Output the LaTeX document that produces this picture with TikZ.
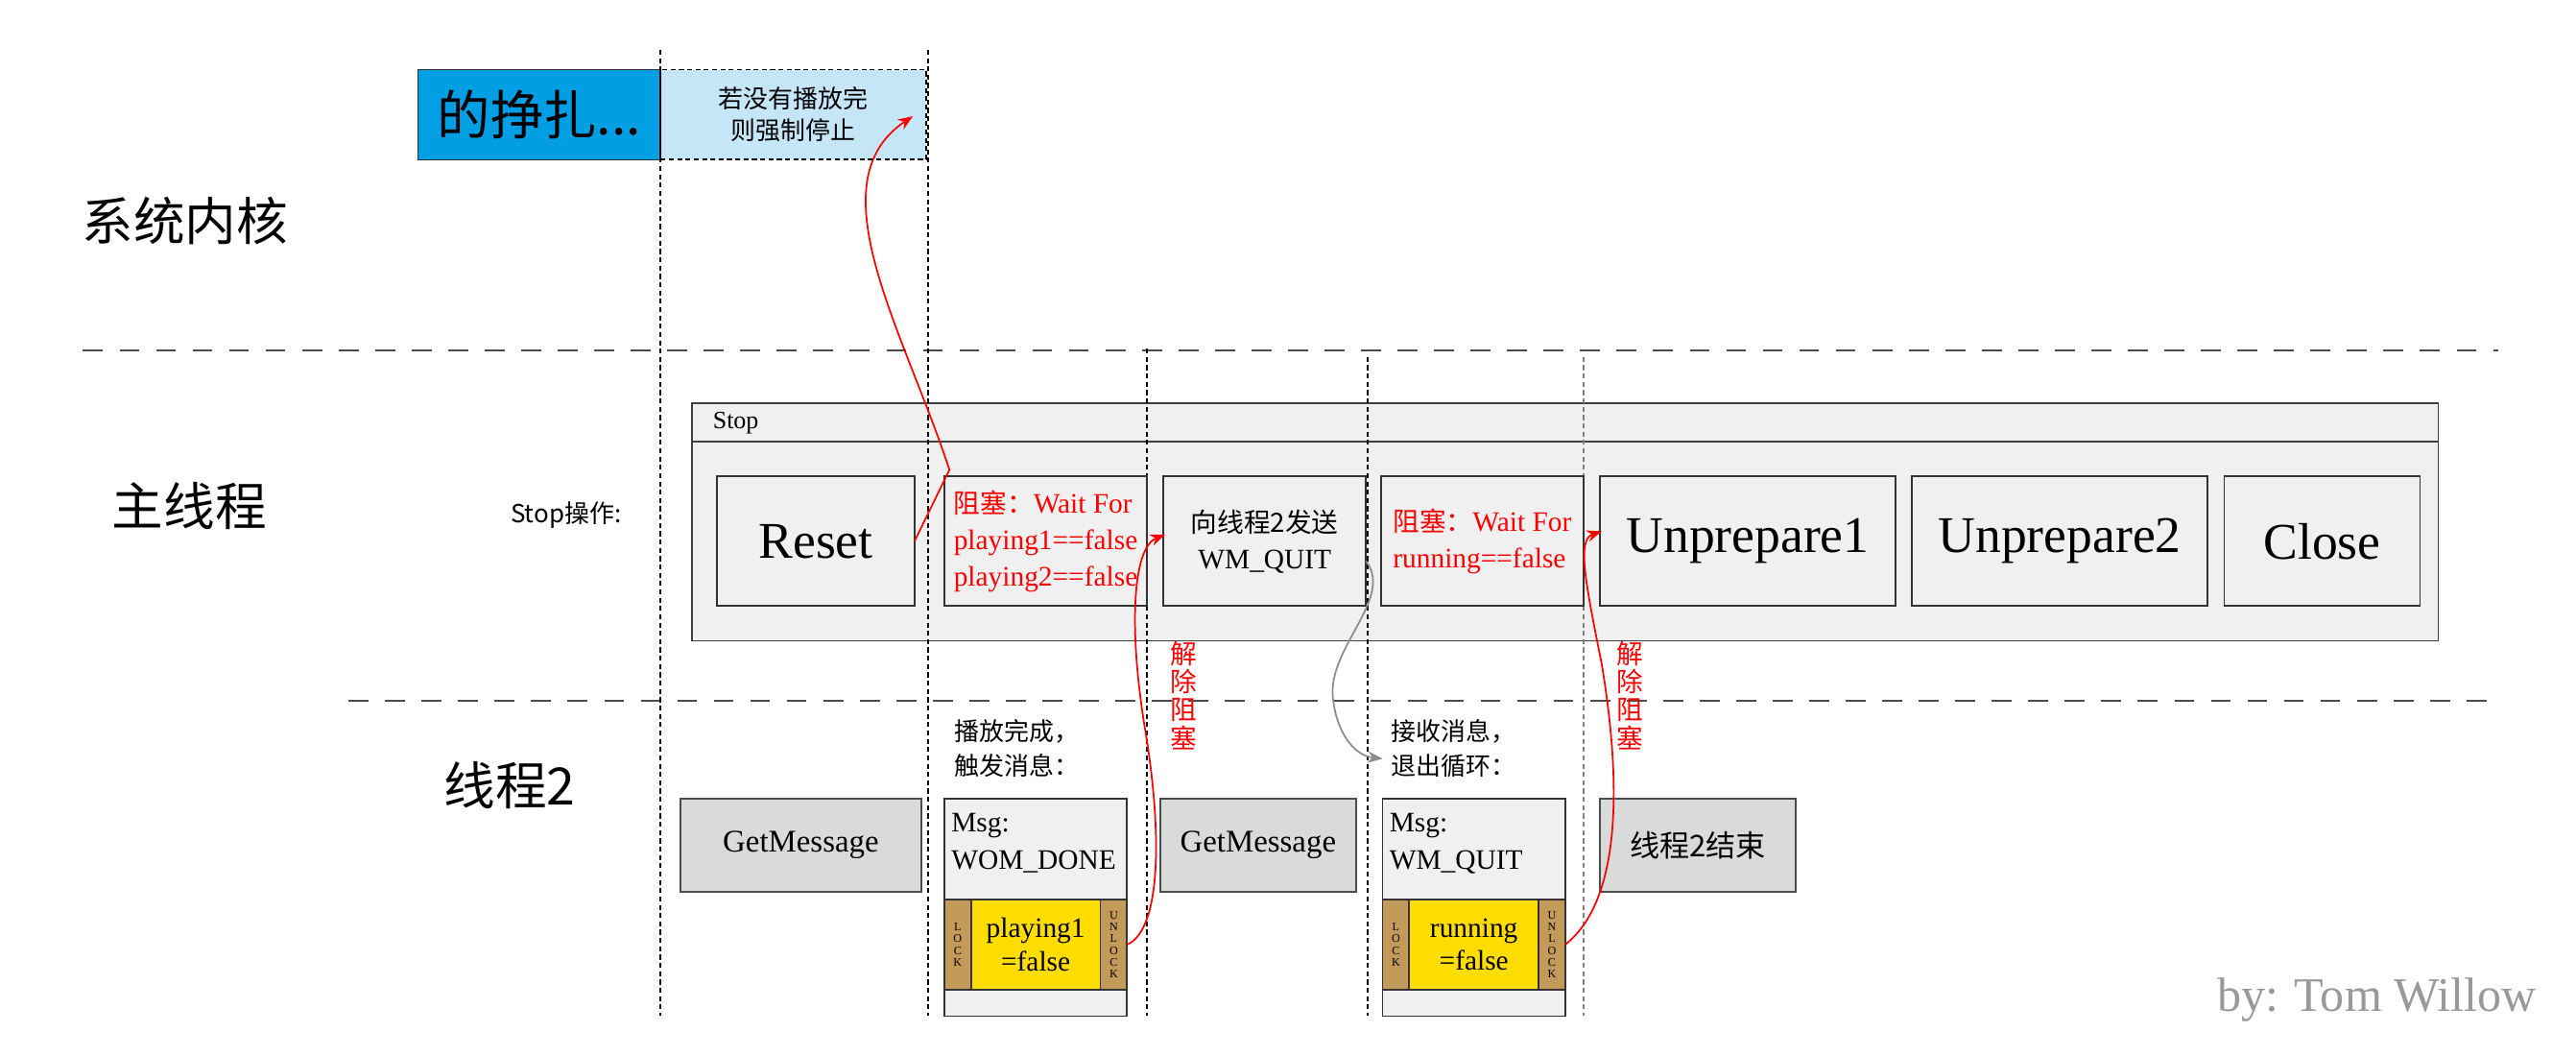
\documentclass[tikz,border=0pt]{standalone}
\usepackage{fontspec}
\setmainfont{Liberation Serif}
\newfontfamily\cjk{Noto Sans CJK SC}
\usetikzlibrary{arrows.meta}
\definecolor{boxg}{HTML}{F0F0F0}
\definecolor{getg}{HTML}{D9DBDB}
\definecolor{tan}{HTML}{C49A5A}
\definecolor{yel}{HTML}{FFDD00}
\definecolor{bblue}{HTML}{009FE3}
\definecolor{lblue}{HTML}{C5E6F7}
\begin{document}
\begin{tikzpicture}[x=1pt,y=-1pt,
 vd/.style={densely dashed,line width=1pt},
 hd/.style={dash pattern=on 12pt off 10pt,line width=1pt,black!70},
 bx/.style={draw=black!80,line width=1pt,fill=boxg,outer sep=0},
 gb/.style={draw=black!70,line width=1pt,fill=getg,outer sep=0},
 redarr/.style={red,line width=1pt,-{Stealth[length=9pt,width=7pt]}},
 lab/.style={font=\cjk\fontsize{31}{31}\selectfont,anchor=west},
 big/.style={font=\fontsize{31}{31}\selectfont},
 lk/.style={font=\fontsize{7}{7}\selectfont,align=center,inner sep=0pt}]
\useasboundingbox (0,0) rectangle (1552,636);
% top boxes
\node[draw=black!80,fill=bblue,minimum width=146,minimum height=54,anchor=north west,inner sep=0,outer sep=0,font=\cjk\fontsize{32}{32}\selectfont] (blue) at (252,42) {的挣扎...};
\node[draw=black,vd,fill=lblue,minimum width=160,minimum height=54,anchor=north west,inner sep=0,outer sep=0,font=\cjk\fontsize{15}{19}\selectfont,align=center] (lb) at (398,42) {若没有播放完\\则强制停止};
% lane labels
\node[lab] (l1) at (46,133) {系统内核};
\node[lab] (l2) at (64,305) {主线程};
\node[lab] (l3) at (264,473) {线程2};
\node[font=\cjk\fontsize{15}{15}\selectfont] (so) at (341,310) {Stop操作:};
% horizontal dashed
\draw[hd] (50,211) -- (1505,211);
\draw[hd] (210,422) -- (1505,422);
% Stop container
\node[draw=black!75,line width=1pt,fill=boxg,minimum width=1052,minimum height=143,anchor=north west,inner sep=0,outer sep=0] (stop) at (417,243) {};
\draw[black!75,line width=1pt] (417,266) -- (1469,266);
\node[anchor=west,font=\fontsize{15}{15}\selectfont] (stopl) at (426,255) {Stop};
% vertical dashed
\draw[vd] (398,30) -- (398,612);
\draw[vd] (559,30) -- (559,612);
\draw[vd] (691,210) -- (691,612);
\draw[vd] (824,215) -- (824,612);
\draw[vd,black!50] (954,215) -- (954,612);
% main boxes
\node[bx,big,minimum width=119,minimum height=78,anchor=north west] (reset) at (432,287) {Reset};
\node[bx,minimum width=122,minimum height=78,anchor=north west,text=red,font=\fontsize{17}{22}\selectfont,align=left,inner sep=1pt] (w1) at (569,287) {{\cjk\fontsize{16}{22}\selectfont 阻塞：}Wait For\\playing1==false\\playing2==false};
\node[bx,minimum width=122,minimum height=78,anchor=north west,font=\fontsize{17}{22}\selectfont,align=center] (send) at (701,287) {{\cjk\fontsize{16}{22}\selectfont 向线程2发送}\\WM\_QUIT};
\node[bx,minimum width=122,minimum height=78,anchor=north west,text=red,font=\fontsize{17}{22}\selectfont,align=left,inner sep=1pt] (w2) at (832,287) {{\cjk\fontsize{16}{22}\selectfont 阻塞：}Wait For\\running==false};
\node[bx,big,minimum width=178,minimum height=78,anchor=north west] (u1) at (964,287) {Unprepare1};
\node[bx,big,minimum width=178,minimum height=78,anchor=north west] (u2) at (1152,287) {Unprepare2};
\node[bx,big,minimum width=118,minimum height=78,anchor=north west] (close) at (1340,287) {Close};
% thread 2
\node[gb,minimum width=145,minimum height=56,anchor=north west,font=\fontsize{19}{19}\selectfont] (g1) at (410,481) {GetMessage};
\node[gb,minimum width=118,minimum height=56,anchor=north west,font=\fontsize{19}{19}\selectfont] (g2) at (699,481) {GetMessage};
\node[gb,minimum width=118,minimum height=56,anchor=north west,font=\cjk\fontsize{18}{18}\selectfont] (end) at (964,481) {线程2结束};
\node[anchor=north west,font=\cjk\fontsize{15}{21}\selectfont,align=left,inner sep=0] (c1) at (575,433) {播放完成，\\触发消息：};
\node[anchor=north west,font=\cjk\fontsize{15}{21}\selectfont,align=left,inner sep=0] (c2) at (838,433) {接收消息，\\退出循环：};
% msg boxes
\foreach \n/\x/\m/\v in {m1/569/WOM\_DONE/playing1, m2/833/WM\_QUIT/running}{
 \node[bx,minimum width=110,minimum height=131,anchor=north west,inner sep=0] (\n) at (\x,481) {};
 \node[anchor=north west,font=\fontsize{17}{22}\selectfont,align=left,inner sep=0] (\n t) at (\x+4,490) {Msg:\\\m};
 \node[draw=black!80,line width=1pt,fill=tan,minimum width=16,minimum height=54,anchor=north west,inner sep=0,outer sep=0] (\n l) at (\x,542) {};
 \node[lk] at (\n l) {L\\O\\C\\K};
 \node[draw=black!80,line width=1pt,fill=yel,minimum width=78,minimum height=54,anchor=north west,inner sep=0,outer sep=0,font=\fontsize{17}{20}\selectfont,align=center] (\n y) at (\x+16,542) {\v\\=false};
 \node[draw=black!80,line width=1pt,fill=tan,minimum width=16,minimum height=54,anchor=north west,inner sep=0,outer sep=0] (\n u) at (\x+94,542) {};
 \node[lk] at (\n u) {U\\N\\L\\O\\C\\K};
}
% unblock labels
\node[red,font=\cjk\fontsize{16}{17}\selectfont,align=center,inner sep=0,anchor=north] (ub1) at (713,386) {解\\除\\阻\\塞};
\node[red,font=\cjk\fontsize{16}{17}\selectfont,align=center,inner sep=0,anchor=north] (ub2) at (982,386) {解\\除\\阻\\塞};
% credit
\node[black!40,font=\fontsize{29}{29}\selectfont] (by) at (1432,602) {by: Tom Willow};
% arrows
\coordinate (k1) at (572,283);
\draw[redarr] (reset.east) -- (k1) .. controls (545,200) and (490,110) .. (550,70);
\draw[redarr] (m1u.east) .. controls (700,560) and (700,500) .. (690,440) .. controls (680,380) and (682,330) .. (702,322);
\draw[line width=1pt,black!45,-{Stealth[length=9pt,width=7pt]}] (823,338) .. controls (840,360) and (800,390) .. (803,420) .. controls (805,440) and (815,455) .. (833,457);
\draw[redarr] (m2u.east) .. controls (980,540) and (975,460) .. (965,400) .. controls (955,350) and (950,325) .. (965,320);
\end{tikzpicture}
\end{document}
